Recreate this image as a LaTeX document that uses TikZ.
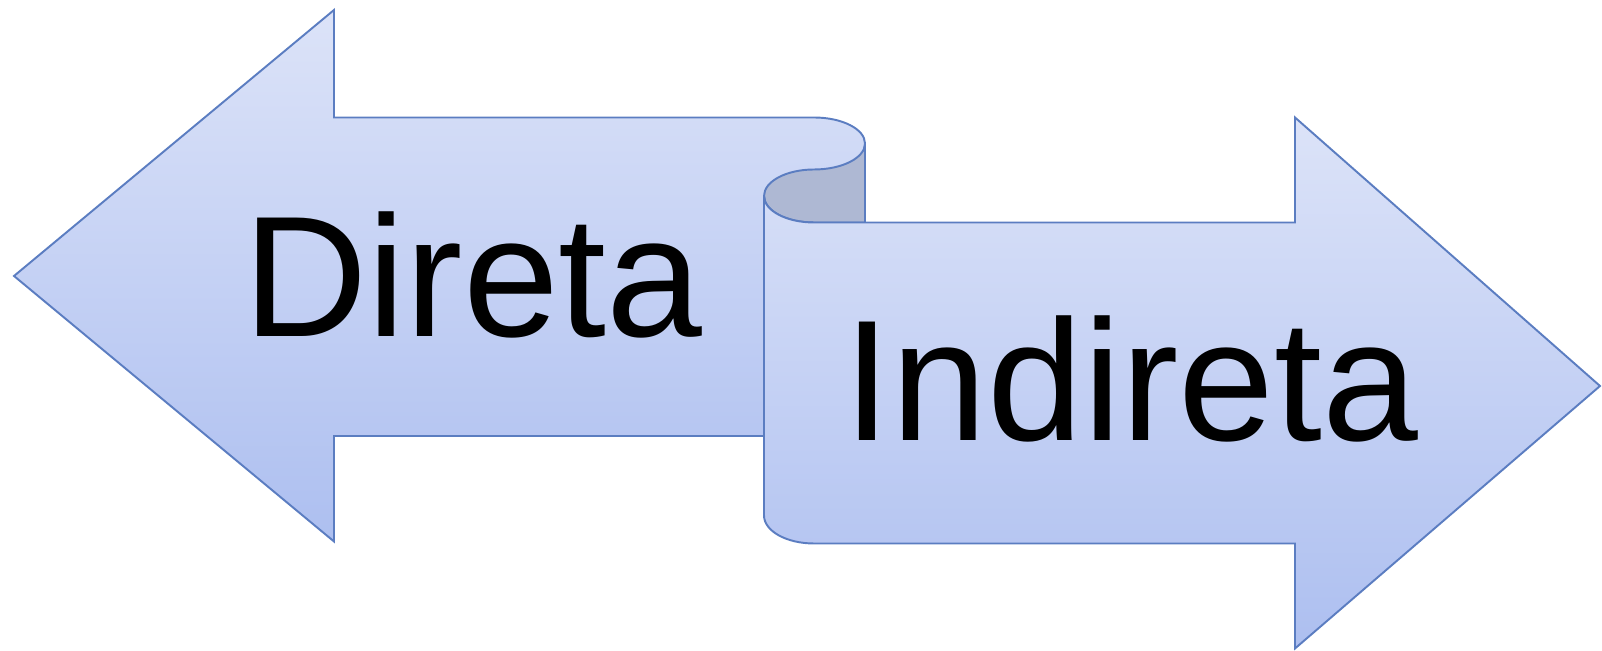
\documentclass[tikz,border=0pt]{standalone}
\usepackage{fontspec}
\setmainfont{Liberation Sans}
\definecolor{edgeblue}{HTML}{5B7DC1}
\definecolor{filltop}{HTML}{DCE3F8}
\definecolor{fillbot}{HTML}{ADBFF0}
\definecolor{curlback}{HTML}{AEB8D3}

\begin{document}
\begin{tikzpicture}
		[
			x=0.02cm, y=0.02cm,
			arrowbody/.style={draw=edgeblue, line width=1.1pt, top color=filltop, bottom color=fillbot},
			curlback/.style={draw=edgeblue, line width=1.1pt, fill=curlback},
			word/.style={font=\fontsize{98}{98}\selectfont, anchor=base, inner sep=0pt},
		]
		\useasboundingbox (0,0) rectangle (1602,651);

		% Left arrow
		\draw[arrowbody] (14,375) -- (334,641) -- (334,533.5) -- (814,533.5)
			arc[start angle=90, end angle=0, x radius=51, y radius=26]
			-- (865,215) -- (334,215) -- (334,109.5) -- cycle;

		% Back of the curl
		\draw[curlback] (814,481.5) arc[start angle=270, end angle=360, x radius=51, y radius=26]
			-- (865,428.5) -- (814,428.5)
			arc[start angle=270, end angle=90, x radius=50, y radius=26.5] -- cycle;

		% Right arrow
		\draw[arrowbody] (764,455) arc[start angle=180, end angle=270, x radius=50, y radius=26.5]
			-- (1295,428.5) -- (1295,533.5) -- (1600,265) -- (1295,2.5) -- (1295,107.5) -- (814,107.5)
			arc[start angle=270, end angle=180, x radius=50, y radius=28] -- cycle;

		% Labels
		\foreach \name/\x/\y/\text in
		{
			direta/473/314/Direta,
			indireta/1131/210/Indireta
		}
			\node[word] (\name) at (\x,\y) {\text};

		\end{tikzpicture}
\end{document}
